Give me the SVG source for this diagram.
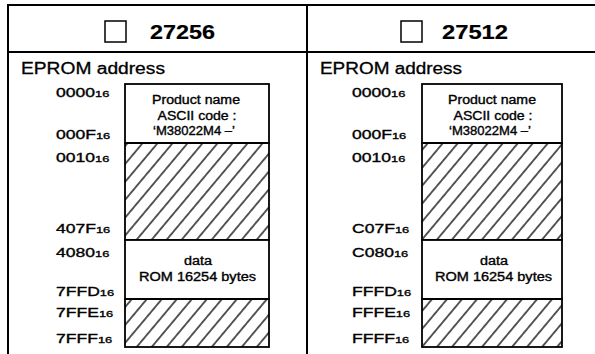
<svg xmlns="http://www.w3.org/2000/svg" width="595" height="354" viewBox="0 0 595 354">
  <defs>
    <pattern id="hatch" patternUnits="userSpaceOnUse" width="11.5" height="11.5" patternTransform="rotate(40)">
      <line x1="5.75" y1="-1" x2="5.75" y2="12.5" stroke="#000" stroke-width="1.3"/>
    </pattern>
    <style>
      .frame { stroke: #000; stroke-width: 2; fill: none; }
      .box { stroke: #000; stroke-width: 1.8; }
      .white { fill: #fff; }
      .hatched { fill: url(#hatch); }
      text { font-family: "Liberation Sans", Arial, Helvetica, sans-serif; fill: #000; stroke: #000; stroke-width: 0.35; }
      .title { font-size: 21px; font-weight: bold; stroke-width: 0.2; }
      .label { font-size: 16px; stroke-width: 0.3; }
      .addr { font-size: 13px; }
      .sub { font-size: 9.5px; }
      .inner { font-size: 12px; text-anchor: middle; }
      .chk { fill: #fff; stroke: #000; stroke-width: 1.5; }
    </style>
  </defs>
  <rect width="595" height="354" fill="#fff"/>

  <g id="frame">
    <line class="frame" x1="8" y1="5" x2="595" y2="5"/>
    <line class="frame" x1="8" y1="52" x2="595" y2="52"/>
    <line class="frame" x1="8" y1="4" x2="8" y2="354"/>
    <line class="frame" x1="307" y1="4" x2="307" y2="354"/>
  </g>

  <g id="header-27256">
    <rect class="chk" x="105" y="21" width="21" height="21"/>
    <text class="title" x="150" y="39" textLength="65" lengthAdjust="spacingAndGlyphs">27256</text>
  </g>
  <g id="header-27512">
    <rect class="chk" x="401" y="21" width="21" height="21"/>
    <text class="title" x="442" y="39" textLength="66" lengthAdjust="spacingAndGlyphs">27512</text>
  </g>

  <g id="label-left">
    <text class="label" x="21" y="74" textLength="144" lengthAdjust="spacingAndGlyphs">EPROM address</text>
  </g>
  <g id="label-right">
    <text class="label" x="320" y="74" textLength="142" lengthAdjust="spacingAndGlyphs">EPROM address</text>
  </g>

  <g id="map-27256">
    <rect class="box white" x="125" y="84" width="144" height="59"/>
    <rect class="box hatched" x="125" y="143" width="144" height="97"/>
    <rect class="box white" x="125" y="240" width="144" height="59"/>
    <rect class="box hatched" x="125" y="299" width="144" height="48"/>
    <text class="inner" x="196" y="103.5" textLength="88" lengthAdjust="spacingAndGlyphs">Product name</text>
    <text class="inner" x="197" y="119.5" textLength="79" lengthAdjust="spacingAndGlyphs">ASCII code :</text>
    <text class="inner" x="194" y="135" textLength="82" lengthAdjust="spacingAndGlyphs">‘M38022M4 –’</text>
    <text class="inner" x="198" y="265" textLength="28" lengthAdjust="spacingAndGlyphs">data</text>
    <text class="inner" x="197.5" y="281" textLength="117" lengthAdjust="spacingAndGlyphs">ROM 16254 bytes</text>
  </g>

  <g id="map-27512">
    <rect class="box white" x="422" y="84" width="140" height="59"/>
    <rect class="box hatched" x="422" y="143" width="140" height="97"/>
    <rect class="box white" x="422" y="240" width="140" height="59"/>
    <rect class="box hatched" x="422" y="299" width="140" height="48"/>
    <text class="inner" x="492" y="103.5" textLength="88" lengthAdjust="spacingAndGlyphs">Product name</text>
    <text class="inner" x="493" y="119.5" textLength="79" lengthAdjust="spacingAndGlyphs">ASCII code :</text>
    <text class="inner" x="490" y="135" textLength="82" lengthAdjust="spacingAndGlyphs">‘M38022M4 –’</text>
    <text class="inner" x="494" y="265" textLength="28" lengthAdjust="spacingAndGlyphs">data</text>
    <text class="inner" x="493.5" y="281" textLength="117" lengthAdjust="spacingAndGlyphs">ROM 16254 bytes</text>
  </g>

  <g id="addresses-27256" transform="translate(56,0) scale(1.35,1)">
    <text class="addr" x="0" y="97">0000<tspan class="sub">16</tspan></text>
    <text class="addr" x="0" y="139">000F<tspan class="sub">16</tspan></text>
    <text class="addr" x="0" y="162">0010<tspan class="sub">16</tspan></text>
    <text class="addr" x="0" y="233">407F<tspan class="sub">16</tspan></text>
    <text class="addr" x="0" y="257">4080<tspan class="sub">16</tspan></text>
    <text class="addr" x="0" y="296">7FFD<tspan class="sub">16</tspan></text>
    <text class="addr" x="0" y="317">7FFE<tspan class="sub">16</tspan></text>
    <text class="addr" x="0" y="343">7FFF<tspan class="sub">16</tspan></text>
  </g>

  <g id="addresses-27512" transform="translate(352,0) scale(1.35,1)">
    <text class="addr" x="0" y="97">0000<tspan class="sub">16</tspan></text>
    <text class="addr" x="0" y="139">000F<tspan class="sub">16</tspan></text>
    <text class="addr" x="0" y="162">0010<tspan class="sub">16</tspan></text>
    <text class="addr" x="0" y="233">C07F<tspan class="sub">16</tspan></text>
    <text class="addr" x="0" y="257">C080<tspan class="sub">16</tspan></text>
    <text class="addr" x="0" y="296">FFFD<tspan class="sub">16</tspan></text>
    <text class="addr" x="0" y="317">FFFE<tspan class="sub">16</tspan></text>
    <text class="addr" x="0" y="343">FFFF<tspan class="sub">16</tspan></text>
  </g>
</svg>
